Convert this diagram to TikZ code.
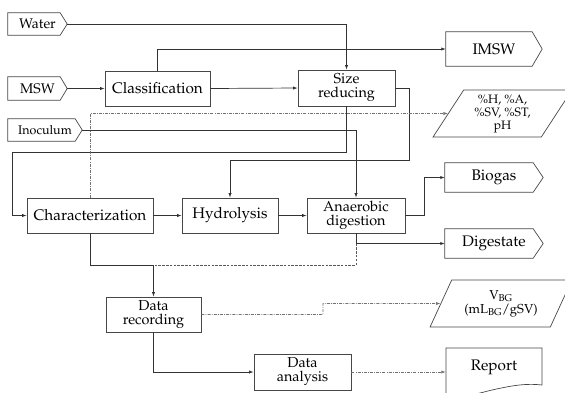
\documentclass[tikz,border=0pt]{standalone}
\usepackage[T1]{fontenc}
\usepackage{mathpazo}
\usetikzlibrary{arrows.meta,shapes.geometric,calc}
\newcommand\drawsig[2]{\draw[boxline] (#1.north west) -- ([xshift=-#2]#1.north east) -- (#1.east) -- ([xshift=-#2]#1.south east) -- (#1.south west) -- cycle;}
\begin{document}
\begin{tikzpicture}[x=1pt,y=-1pt,
  boxline/.style={draw=black!72, line width=0.7pt},
  conn/.style={draw=black!80, line width=0.7pt},
  arr/.style={conn, -{Latex[length=4.5pt,width=3.2pt]}},
  dd/.style={draw=black!55, line width=0.7pt, dash pattern=on 3pt off 1.2pt on 0.8pt off 1.2pt},
  ddarr/.style={dd, -{Latex[length=4.5pt,width=3.2pt]}, draw=black!55},
  dsh/.style={draw=black!65, line width=0.7pt, dash pattern=on 2.5pt off 1.3pt},
  box/.style={boxline, rectangle, inner sep=1pt, align=center, font=\fontsize{15.3}{15}\selectfont},
  box2/.style={box, font=\fontsize{14.4}{14}\selectfont},
  sig/.style={rectangle, inner sep=1pt, align=center, font=\fontsize{15.3}{15}\selectfont},
  insig/.style={sig, font=\fontsize{14}{14}\selectfont},
  para/.style={trapezium, trapezium left angle=60, trapezium right angle=120, trapezium stretches=true, boxline, inner sep=1pt, align=center, font=\fontsize{12.2}{13}\selectfont}
]
\useasboundingbox (0,0) rectangle (565,392);

% inputs
\node[insig, minimum width=59, minimum height=22] (water) at (37.5,24) {Water};
\node[insig, minimum width=59, minimum height=23] (msw) at (37.5,88.5) {MSW};
\node[insig, font=\fontsize{12.5}{13}\selectfont, minimum width=74, minimum height=22] (inoc) at (45,130) {Inoculum};
\drawsig{water}{7pt}
\drawsig{msw}{7pt}
\drawsig{inoc}{7pt}

% process boxes
\node[box, minimum width=105, minimum height=35] (class) at (157.5,88.5) {Classification};
\node[box2, minimum width=97, minimum height=36] (size) at (346.5,88) {Size\\reducing};
\node[box, minimum width=126, minimum height=35] (char) at (90,215.5) {Characterization};
\node[box, minimum width=96, minimum height=35] (hyd) at (230,215.5) {Hydrolysis};
\node[box2, minimum width=98, minimum height=35] (anaer) at (356,215.5) {Anaerobic\\digestion};
\node[box2, minimum width=95, minimum height=35] (drec) at (153.5,314.5) {Data\\recording};
\node[box2, minimum width=97, minimum height=36] (danal) at (302.5,372) {Data\\analysis};

% outputs
\node[sig, minimum width=96, minimum height=34] (imsw) at (494,49) {IMSW};
\node[sig, minimum width=98, minimum height=29] (biogas) at (494,177.5) {Biogas};
\node[sig, minimum width=98, minimum height=29] (digest) at (494,243.5) {Digestate};
\drawsig{imsw}{10pt}
\drawsig{biogas}{10pt}
\drawsig{digest}{10pt}
\node[para, minimum width=139, minimum height=47] (ph) at (502.5,113.5) {\%H, \%A,\\\%SV, \%ST,\\pH};
\node[para, font=\fontsize{13}{14}\selectfont, minimum width=142, minimum height=47] (vbg) at (501,303.5) {V\textsubscript{BG}\\(mL\textsubscript{BG}/gSV)};
\node[sig, minimum width=96, minimum height=38] (rep) at (494,367) {Report};
\draw[boxline] (446,396) -- (446,348) -- (542,348) -- (542,385)
  .. controls (525,383) and (510,386) .. (492,390) .. controls (480,393) and (472,395) .. (465,397);

% helper coordinates
\coordinate (c1) at (12,152);
\coordinate (c2) at (409,160);
\coordinate (c4) at (153.5,265);
\coordinate (c5) at (323,303.5);

% connectors
\draw[arr] (water.east) -| (size.north);
\draw[arr] (class.north) |- (imsw.west);
\draw[arr] (msw.east) -- (class.west);
\draw[arr] (class.east) -- (size.west);
\draw[arr] (size.south) |- (c1) |- (char.west);
\draw[arr] (size.east) -| (c2) -| (hyd.north);
\draw[arr] (inoc.east) -| (anaer.north);
\draw[arr] (char.east) -- (hyd.west);
\draw[arr] (hyd.east) -- (anaer.west);
\draw[arr] (anaer.east) -- ++(19,0) |- (biogas.west);
\draw[arr] (anaer.south) |- (digest.west);
\draw[dsh] (anaer.south |- digest.west) |- (c4);
\draw[conn] (char.south) |- (c4);
\draw[arr] (c4) -- (drec.north);
\draw[ddarr] (char.north) |- (ph);
\draw[ddarr] (drec.east) -| (c5) -- (vbg);
\draw[arr] (drec.south) |- (danal.west);
\draw[ddarr] (danal.east) -- (danal.east |- danal.east -| rep.west);
\end{tikzpicture}
\end{document}
